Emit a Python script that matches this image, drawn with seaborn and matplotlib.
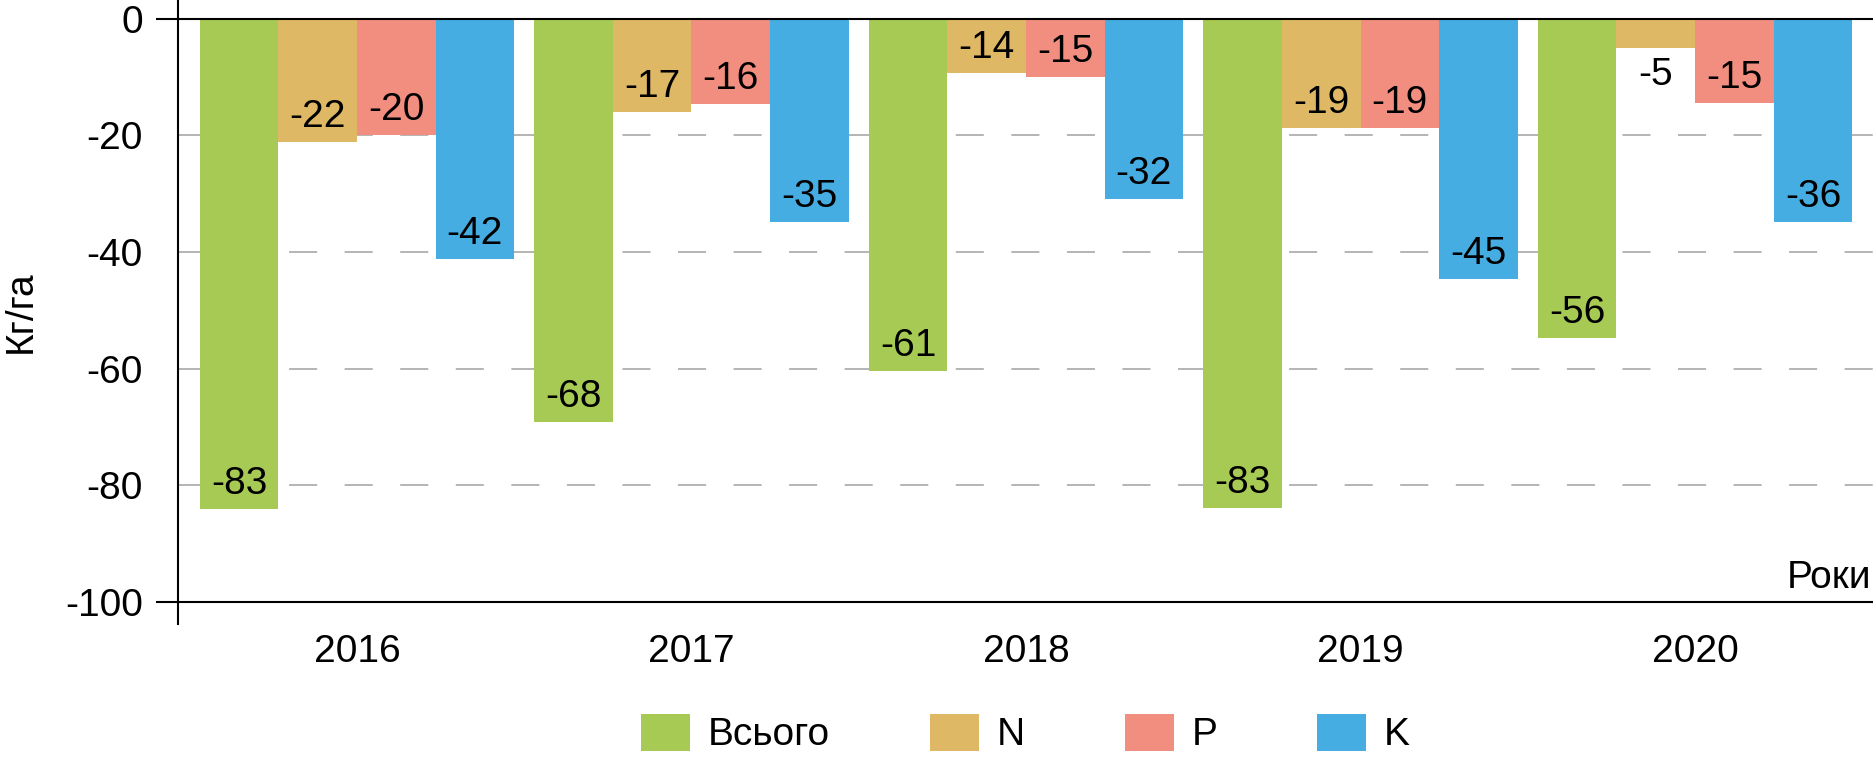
"""
nutrient balance per year (kg/ha), grouped bars
"""
import numpy as np
import pandas as pd
import seaborn as sns
import matplotlib.pyplot as plt
from matplotlib.patches import Patch

years = ['2016', '2017', '2018', '2019', '2020']
series = ['Всього', 'N', 'P', 'K']

# bar heights
total_vals = [-84.1, -69.2, -60.5, -84.0, -54.7]
n_vals = [-21.1, -15.9, -9.2, -18.7, -4.9]
p_vals = [-19.9, -14.6, -9.9, -18.7, -14.4]
k_vals = [-41.2, -34.9, -30.9, -44.6, -34.9]

# data labels as printed on the chart
total_lbl = [-83, -68, -61, -83, -56]
n_lbl = [-22, -17, -14, -19, -5]
p_lbl = [-20, -16, -15, -19, -15]
k_lbl = [-42, -35, -32, -45, -36]

colors = ['#A7CA54', '#DEB865', '#F28E7F', '#45ADE2']

sns.set_style('white')
plt.rcParams['font.family'] = ['Liberation Sans', 'DejaVu Sans']
plt.rcParams['axes.unicode_minus'] = False
plt.rcParams['lines.scale_dashes'] = False
plt.rcParams['text.color'] = 'black'
plt.rcParams['xtick.color'] = 'black'
plt.rcParams['ytick.color'] = 'black'
plt.rcParams['axes.labelcolor'] = 'black'

df = pd.DataFrame({'year': years * 4,
                   'series': np.repeat(series, len(years)),
                   'value': total_vals + n_vals + p_vals + k_vals})

fig = plt.figure(figsize=(18.74, 7.67), dpi=100)
ax = fig.add_axes([178 / 1874, 143 / 767, 1695 / 1874, 624 / 767])

sns.barplot(data=df, x='year', y='value', hue='series', order=years,
            hue_order=series, palette=colors, saturation=1, width=0.94,
            gap=0, linewidth=0, errorbar=None, legend=False, ax=ax, zorder=2)

ax.set_xlim(-0.535, 4.532)
ax.set_ylim(-103.86, 3.26)

for s in ['top', 'right', 'bottom']:
    ax.spines[s].set_visible(False)
ax.spines['left'].set_color('black')
ax.spines['left'].set_linewidth(1.5)

# grid: dashed grey, solid black at 0 and -100
for y in [-20, -40, -60, -80]:
    ax.axhline(y, color='#A0A0A0', lw=1.1, dashes=(20.2, 19.8), zorder=0)
ax.axhline(0, color='black', lw=1.5, zorder=3)
ax.axhline(-100, color='black', lw=1.5, zorder=3)

ax.set_yticks(range(-100, 1, 20))
ax.tick_params(axis='y', length=15.8, width=1.5, pad=9.4, labelsize=28,
               color='black', labelcolor='black', left=True)
for t in ax.yaxis.get_major_ticks()[1:-1]:
    t.tick1line.set_visible(False)
ax.tick_params(axis='x', length=0, pad=7, labelsize=28, labelcolor='black')
ax.set_xlabel('')
ax.set_ylabel('')

# data labels
for cont, lbls in zip(ax.containers, [total_lbl, n_lbl, p_lbl, k_lbl]):
    for bar, lab in zip(cont, lbls):
        end = bar.get_y() + bar.get_height()
        x = bar.get_x() + bar.get_width() / 2
        off = 18 if abs(end) > 7 else -20
        ax.annotate(str(lab), (x, end), xytext=(0, off),
                    textcoords='offset points', ha='center', va='center',
                    fontsize=28, color='black', zorder=4)

ax.text(0.9988, -97.7, 'Роки', transform=ax.get_yaxis_transform(),
        ha='right', va='baseline', fontsize=28, color='black')
ax.text(-0.0926, 0.5, 'Кг/га', transform=ax.transAxes, rotation=90,
        ha='center', va='center', fontsize=28, color='black')

handles = [Patch(facecolor=c, edgecolor='none') for c in colors]
fig.legend(handles, series, loc='center', bbox_to_anchor=(0.5472, 0.0437),
           ncol=4, frameon=False, fontsize=28, handlelength=1.26,
           handleheight=1.1, handletextpad=0.46, columnspacing=2.57,
           labelcolor='black')

fig.savefig('out.png', dpi=100)
